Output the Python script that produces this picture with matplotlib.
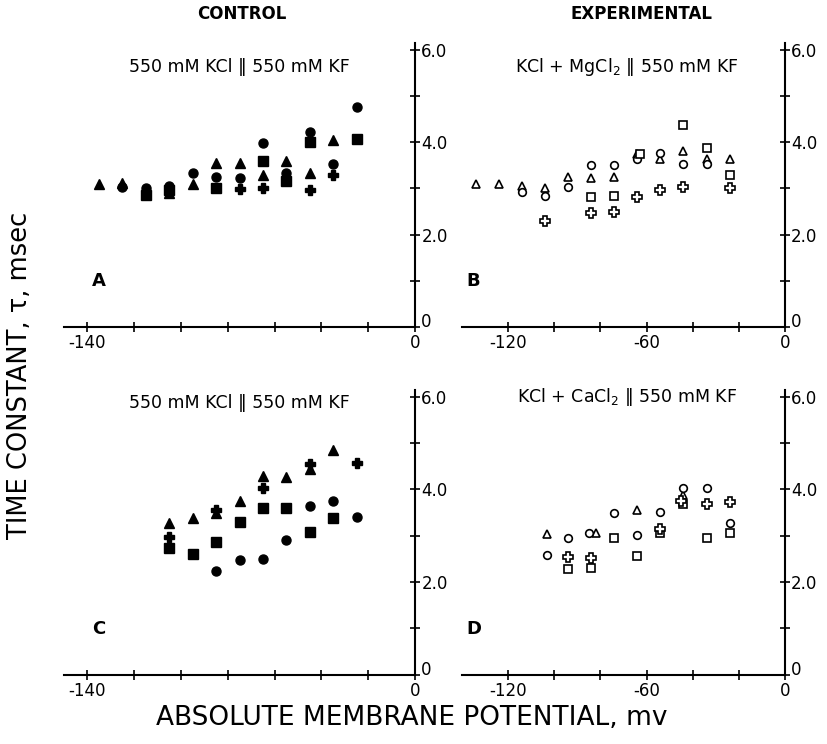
import numpy as np
import matplotlib
matplotlib.use("Agg")
import matplotlib.pyplot as plt

plt.rcParams['font.family'] = ['DejaVu Sans']

# ---- panel A: control, 550 mM KCl || 550 mM KF (filled symbols)
a_tri_x = [-135, -125, -105, -95, -85, -75, -65, -55, -45, -35]
a_tri_y = [3.09, 3.12, 2.90, 3.09, 3.56, 3.56, 3.30, 3.59, 3.33, 4.05]
a_cir_x = [-125, -115, -105, -95, -85, -75, -65, -55, -45, -35, -25]
a_cir_y = [3.02, 3.00, 3.05, 3.33, 3.24, 3.22, 3.99, 3.33, 4.23, 3.52, 4.76]
a_sq_x = [-115, -105, -85, -65, -55, -45, -25]
a_sq_y = [2.86, 2.97, 3.01, 3.59, 3.15, 4.01, 4.08]
a_pl_x = [-75, -65, -45, -35]
a_pl_y = [2.99, 3.00, 2.96, 3.29]

# ---- panel B: experimental, KCl + MgCl2 || 550 mM KF (open symbols)
b_tri_x = [-134, -124, -114, -104, -94, -84, -74, -64, -54, -44, -34, -24]
b_tri_y = [3.09, 3.09, 3.05, 3.00, 3.25, 3.22, 3.24, 3.75, 3.63, 3.81, 3.63, 3.63]
b_cir_x = [-114, -104, -94, -84, -74, -64, -54, -44, -34]
b_cir_y = [2.93, 2.83, 3.02, 3.50, 3.51, 3.64, 3.77, 3.53, 3.53]
b_sq_x = [-84, -74, -63, -44, -34, -24]
b_sq_y = [2.81, 2.84, 3.74, 4.37, 3.88, 3.29]
b_pl_x = [-104, -84, -74, -64, -54, -44, -24]
b_pl_y = [2.29, 2.47, 2.49, 2.81, 2.96, 3.02, 3.00]

# ---- panel C: control, 550 mM KCl || 550 mM KF (filled symbols)
c_tri_x = [-105, -95, -85, -75, -65, -55, -45, -35]
c_tri_y = [3.27, 3.39, 3.50, 3.74, 4.28, 4.27, 4.44, 4.86]
c_pl_x = [-105, -85, -65, -45, -25]
c_pl_y = [2.98, 3.56, 4.03, 4.55, 4.57]
c_sq_x = [-105, -95, -85, -75, -65, -55, -45, -35]
c_sq_y = [2.74, 2.60, 2.87, 3.29, 3.60, 3.60, 3.08, 3.38]
c_cir_x = [-85, -75, -65, -55, -45, -35, -25]
c_cir_y = [2.23, 2.48, 2.50, 2.90, 3.65, 3.74, 3.40]

# ---- panel D: experimental, KCl + CaCl2 || 550 mM KF (open symbols)
d_tri_x = [-103, -82, -64, -44]
d_tri_y = [3.03, 3.05, 3.56, 3.88]
d_cir_x = [-103, -94, -85, -74, -64, -54, -44, -34, -24]
d_cir_y = [2.58, 2.95, 3.05, 3.49, 3.02, 3.51, 4.03, 4.04, 3.27]
d_sq_x = [-94, -84, -74, -64, -54, -44, -34, -24]
d_sq_y = [2.28, 2.31, 2.95, 2.57, 3.05, 3.68, 2.96, 3.05]
d_pl_x = [-94, -84, -54, -45, -34, -24]
d_pl_y = [2.53, 2.51, 3.14, 3.75, 3.68, 3.73]

W, H = 827, 744
fig = plt.figure(figsize=(W / 100, H / 100), dpi=100)


def box(l, r, b0, top):
    return [l / W, 1 - b0 / H, (r - l) / W, (b0 - top) / H]


axA = fig.add_axes(box(64, 415, 326.7, 43.2))
axB = fig.add_axes(box(462, 785, 326.7, 43.2))
axC = fig.add_axes(box(64, 415, 674.6, 389.9))
axD = fig.add_axes(box(462, 785, 674.6, 389.9))


def style(ax, xmin, xt, xl):
    ax.set_xlim(xmin, 0)
    ax.set_ylim(0, 6.15)
    for s in ['left', 'top']:
        ax.spines[s].set_visible(False)
    for s in ['right', 'bottom']:
        ax.spines[s].set_linewidth(1.5)
    ax.yaxis.tick_right()
    ax.set_yticks([0, 1, 2, 3, 4, 5, 6])
    ax.set_yticklabels(['0', '', '2.0', '', '4.0', '', '6.0'])
    ax.get_yticklabels()[0].set_va('baseline')
    ax.set_xticks(xt)
    ax.set_xticklabels(xl)
    ax.tick_params(direction='inout', length=7, width=1.2, labelsize=12, pad=1)
    ax.tick_params(axis='x', pad=2)
    ax.set_facecolor('none')


style(axA, -150, [-140, -120, -100, -80, -60, -40, -20, 0],
      ['-140', '', '', '', '', '', '', '0'])
style(axC, -150, [-140, -120, -100, -80, -60, -40, -20, 0],
      ['-140', '', '', '', '', '', '', '0'])
style(axB, -140, [-120, -100, -80, -60, -40, -20, 0],
      ['-120', '', '', '-60', '', '', '0'])
style(axD, -140, [-120, -100, -80, -60, -40, -20, 0],
      ['-120', '', '', '-60', '', '', '0'])

filled = dict(color='black', linestyle='none')
opened = dict(color='black', linestyle='none', markerfacecolor='white', markeredgewidth=1.2)

for ax, sets in [(axA, [(a_tri_x, a_tri_y, '^'), (a_cir_x, a_cir_y, 'o'),
                        (a_sq_x, a_sq_y, 's'), (a_pl_x, a_pl_y, 'P')]),
                 (axC, [(c_tri_x, c_tri_y, '^'), (c_cir_x, c_cir_y, 'o'),
                        (c_sq_x, c_sq_y, 's'), (c_pl_x, c_pl_y, 'P')])]:
    for x, y, m in sets:
        ax.plot(x, y, marker=m, markersize=7 if m == 'P' else 6.5, **filled)

for ax, sets in [(axB, [(b_tri_x, b_tri_y, '^'), (b_cir_x, b_cir_y, 'o'),
                        (b_sq_x, b_sq_y, 's'), (b_pl_x, b_pl_y, 'P')]),
                 (axD, [(d_tri_x, d_tri_y, '^'), (d_cir_x, d_cir_y, 'o'),
                        (d_sq_x, d_sq_y, 's'), (d_pl_x, d_pl_y, 'P')])]:
    for x, y, m in sets:
        ax.plot(x, y, marker=m, markersize=7 if m == 'P' else 5.5, **opened)

# panel letters and conditions
for ax, letter, cond, cx, cy in [
        (axA, 'A', '550 mM KCl \u2016 550 mM KF', 0.50, 0.916),
        (axB, 'B', 'KCl + MgCl$_2$ \u2016 550 mM KF', 0.51, 0.916),
        (axC, 'C', '550 mM KCl \u2016 550 mM KF', 0.50, 0.954),
        (axD, 'D', 'KCl + CaCl$_2$ \u2016 550 mM KF', 0.51, 0.975)]:
    ax.text(0.08 if ax in (axA, axC) else 0.015, 0.16, letter, transform=ax.transAxes,
            fontsize=13, fontweight='bold', va='center', ha='left')
    ax.text(cx, cy, cond, transform=ax.transAxes,
            fontsize=12.5, ha='center', va='center')

fig.text(242 / W, 1 - 14 / H, 'CONTROL', fontsize=12, fontweight='bold',
         ha='center', va='center')
fig.text(641 / W, 1 - 14 / H, 'EXPERIMENTAL', fontsize=12, fontweight='bold',
         ha='center', va='center')
fig.text(20 / W, 1 - 375 / H, 'TIME CONSTANT, \u03c4, msec', fontsize=18.5,
         rotation=90, ha='center', va='center')
fig.text(412 / W, 1 - 718 / H, 'ABSOLUTE MEMBRANE POTENTIAL, mv', fontsize=19,
         ha='center', va='center')

fig.savefig('out.png', dpi=100)
